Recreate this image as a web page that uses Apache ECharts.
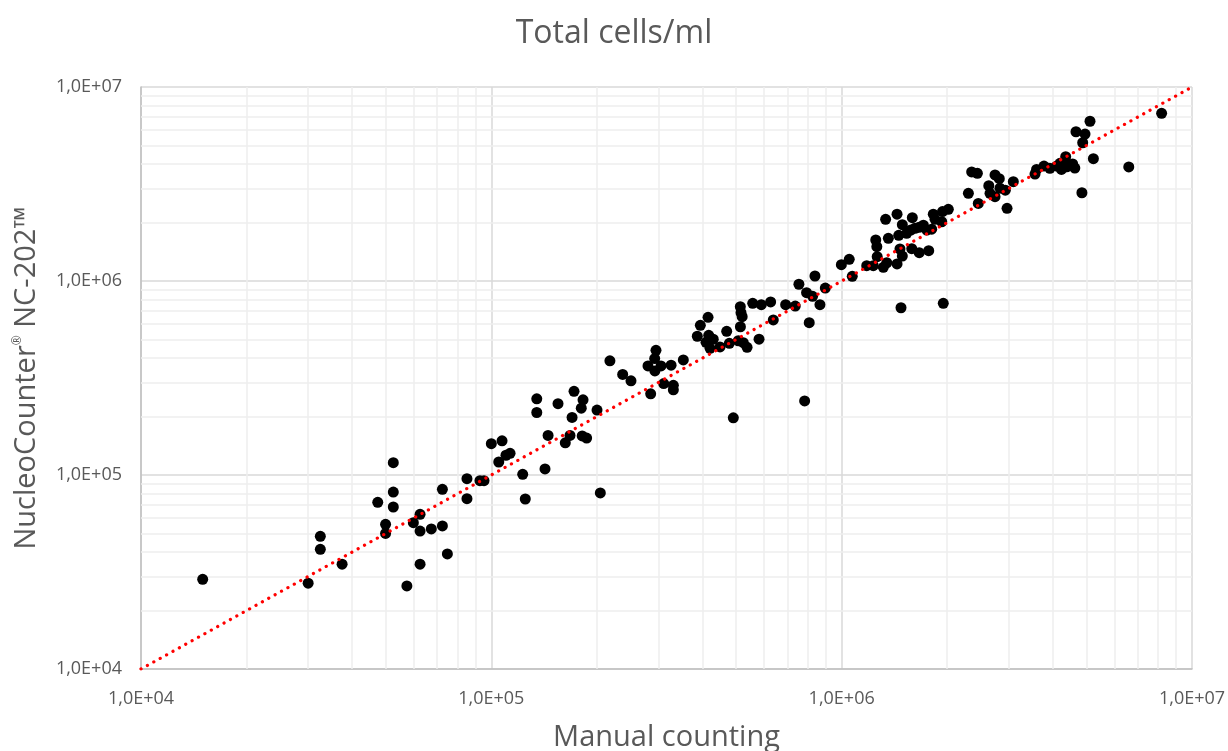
<!DOCTYPE html>
<html>
<head>
<meta charset="utf-8">
<script src="https://cdn.jsdelivr.net/npm/echarts@6/dist/echarts.min.js"></script>
<style>
html,body{margin:0;padding:0;background:#fff;}
#chart{width:1228px;height:751px;}
</style>
</head>
<body>
<div id="chart"></div>
<script>
// Manual counting (x) values
const manualCounts = [15000, 30000, 32500, 32500, 37500, 47400, 52500, 52500, 52500, 49900, 49900, 57400, 59900, 62600, 62600, 62600, 67400, 72500, 72500, 74900, 85200, 85200, 92800, 95300, 100000, 107300, 105000, 110100, 113100, 122900, 125000, 134800, 134800, 142300, 145200, 155000, 162600, 167700, 170000, 172200, 180600, 182700, 181700, 187100, 200300, 204700, 218000, 237100, 250400, 285000, 280000, 295100, 292600, 293000, 305000, 310500, 325900, 330800, 330800, 353200, 387200, 395000, 415500, 417400, 410000, 421000, 430000, 449500, 469700, 477900, 490600, 513700, 516000, 520000, 514000, 507000, 524000, 537000, 557300, 589700, 627000, 638000, 581000, 692000, 737000, 755000, 784000, 808000, 794000, 826000, 839000, 867000, 898000, 998000, 1051000, 1072000, 1179000, 1231000, 1251000, 1260000, 1263000, 1315000, 1345000, 1335000, 1359000, 1439000, 1439000, 1477000, 1467000, 1490000, 1490000, 1455000, 1585000, 1591000, 1533000, 1575000, 1620000, 1663000, 1711000, 1750000, 1807000, 1665000, 1772000, 1826000, 1847000, 1930000, 1950000, 2016000, 1940000, 2300000, 2455000, 2350000, 2440000, 2630000, 2651000, 2740000, 2740000, 2818000, 2830000, 2932000, 2965000, 3090000, 3563000, 3600000, 3780000, 3930000, 4110000, 4200000, 4240000, 4360000, 4390000, 4565000, 4630000, 4665000, 4950000, 4875000, 5115000, 4850000, 5230000, 6600000, 8190000];
// NucleoCounter NC-202 (y) values
const ncCounts = [29000, 27700, 48300, 41400, 34700, 72300, 115700, 81700, 68400, 55700, 50000, 26800, 56800, 62700, 51400, 34700, 52700, 84400, 54600, 39200, 95700, 75500, 93500, 93500, 145000, 150000, 116700, 126400, 129400, 100800, 75200, 247000, 210000, 107400, 160000, 233000, 146600, 160000, 198000, 270000, 221000, 244000, 159000, 155000, 216000, 80800, 388000, 330000, 306000, 262000, 365000, 439000, 398000, 344000, 365000, 296000, 368000, 290000, 275000, 392000, 519000, 591000, 650000, 525000, 483000, 450000, 501000, 457000, 550000, 477000, 197000, 737000, 687000, 655000, 581000, 492000, 481000, 455000, 767000, 755000, 780000, 630000, 501000, 755000, 743000, 962000, 241000, 610000, 871000, 834000, 1061000, 755000, 920000, 1213000, 1294000, 1057000, 1199000, 1199000, 1627000, 1502000, 1334000, 1177000, 1242000, 2080000, 1660000, 2210000, 1224000, 728000, 1462000, 1345000, 1950000, 1720000, 1467000, 2120000, 1760000, 1830000, 1870000, 1890000, 1940000, 1830000, 1850000, 1400000, 1433000, 2210000, 2080000, 2020000, 767000, 2340000, 2280000, 2830000, 2510000, 3650000, 3590000, 3100000, 2830000, 2720000, 3520000, 3370000, 3010000, 2940000, 2370000, 3250000, 3560000, 3760000, 3910000, 3810000, 3910000, 4040000, 3760000, 4370000, 3880000, 4010000, 3820000, 5880000, 5720000, 5160000, 6660000, 2850000, 4270000, 3870000, 7320000];
// Identity reference line (y = x) endpoints
const identityLine = [[10000, 10000], [10000000, 10000000]];
// Axis tick values and labels
const tickValues = [10000, 100000, 1000000, 10000000];
const tickLabels = ['1,0E+04', '1,0E+05', '1,0E+06', '1,0E+07'];
const minorDigits = [2, 3, 4, 5, 6, 7, 8, 9];

const minorValues = [];
for (let d = 0; d < tickValues.length - 1; d++) {
  for (const m of minorDigits) minorValues.push(m * tickValues[d]);
}
const points = manualCounts.map((x, i) => [x, ncCounts[i]]);

function fmt(v) {
  const i = Math.round(Math.log10(v)) - 4;
  return tickLabels[i] !== undefined ? tickLabels[i] : '';
}

const textColor = '#595959';
const font = 'Open Sans';

const chart = echarts.init(document.getElementById('chart'), null, {renderer: 'canvas'});
chart.setOption({
  animation: false,
  backgroundColor: '#fff',
  title: {
    text: 'Total cells/ml',
    left: 'center',
    top: 13,
    textStyle: {fontFamily: font, fontSize: 32, fontWeight: 'normal', color: textColor}
  },
  grid: {left: 141, right: 36, top: 87, bottom: 82, containLabel: false, outerBoundsMode: 'none'},
  xAxis: {
    type: 'log', logBase: 10, min: 10000, max: 10000000,
    name: 'Manual counting', nameLocation: 'middle', nameGap: 54,
    nameTextStyle: {fontFamily: font, fontSize: 29, color: textColor},
    axisLine: {show: true, lineStyle: {color: '#bfbfbf', width: 1.5}},
    axisTick: {show: false},
    axisLabel: {formatter: fmt, fontFamily: font, fontSize: 18, color: textColor, margin: 21},
    splitLine: {show: true, lineStyle: {color: '#d9d9d9', width: 1.5}},
    minorTick: {show: false}, minorSplitLine: {show: false}
  },
  yAxis: {
    type: 'log', logBase: 10, min: 10000, max: 10000000,
    name: '{n|NucleoCounter}{s|®}{n| NC-202™}', nameLocation: 'middle', nameGap: 100,
    nameTextStyle: {
      fontFamily: font, fontSize: 29, color: textColor,
      rich: {
        n: {fontFamily: font, fontSize: 29, color: textColor},
        s: {fontFamily: font, fontSize: 12, color: textColor, verticalAlign: 'top'}
      }
    },
    axisLine: {show: true, lineStyle: {color: '#bfbfbf', width: 1.5}},
    axisTick: {show: false},
    axisLabel: {formatter: fmt, fontFamily: font, fontSize: 18, color: textColor, margin: 19},
    splitLine: {show: true, lineStyle: {color: '#d9d9d9', width: 1.5}},
    minorTick: {show: false}, minorSplitLine: {show: false}
  },
  series: [
    {
      type: 'line',
      data: [],
      silent: true,
      z: 1,
      markLine: {
        silent: true,
        z: 1,
        symbol: ['none', 'none'],
        label: {show: false},
        lineStyle: {color: '#eeeeee', width: 1.5, type: 'solid', opacity: 1},
        emphasis: {disabled: true},
        data: minorValues.map(v => ({xAxis: v})).concat(minorValues.map(v => ({yAxis: v})))
      }
    },
    {
      type: 'scatter',
      data: points,
      symbol: 'circle',
      symbolSize: 11,
      itemStyle: {color: '#000000', opacity: 1},
      z: 5
    },
    {
      type: 'line',
      data: identityLine,
      symbol: 'none',
      z: 6,
      lineStyle: {color: '#ff0000', width: 3.2, type: [0.1, 7.2], cap: 'round'}
    }
  ]
});
</script>
</body>
</html>
